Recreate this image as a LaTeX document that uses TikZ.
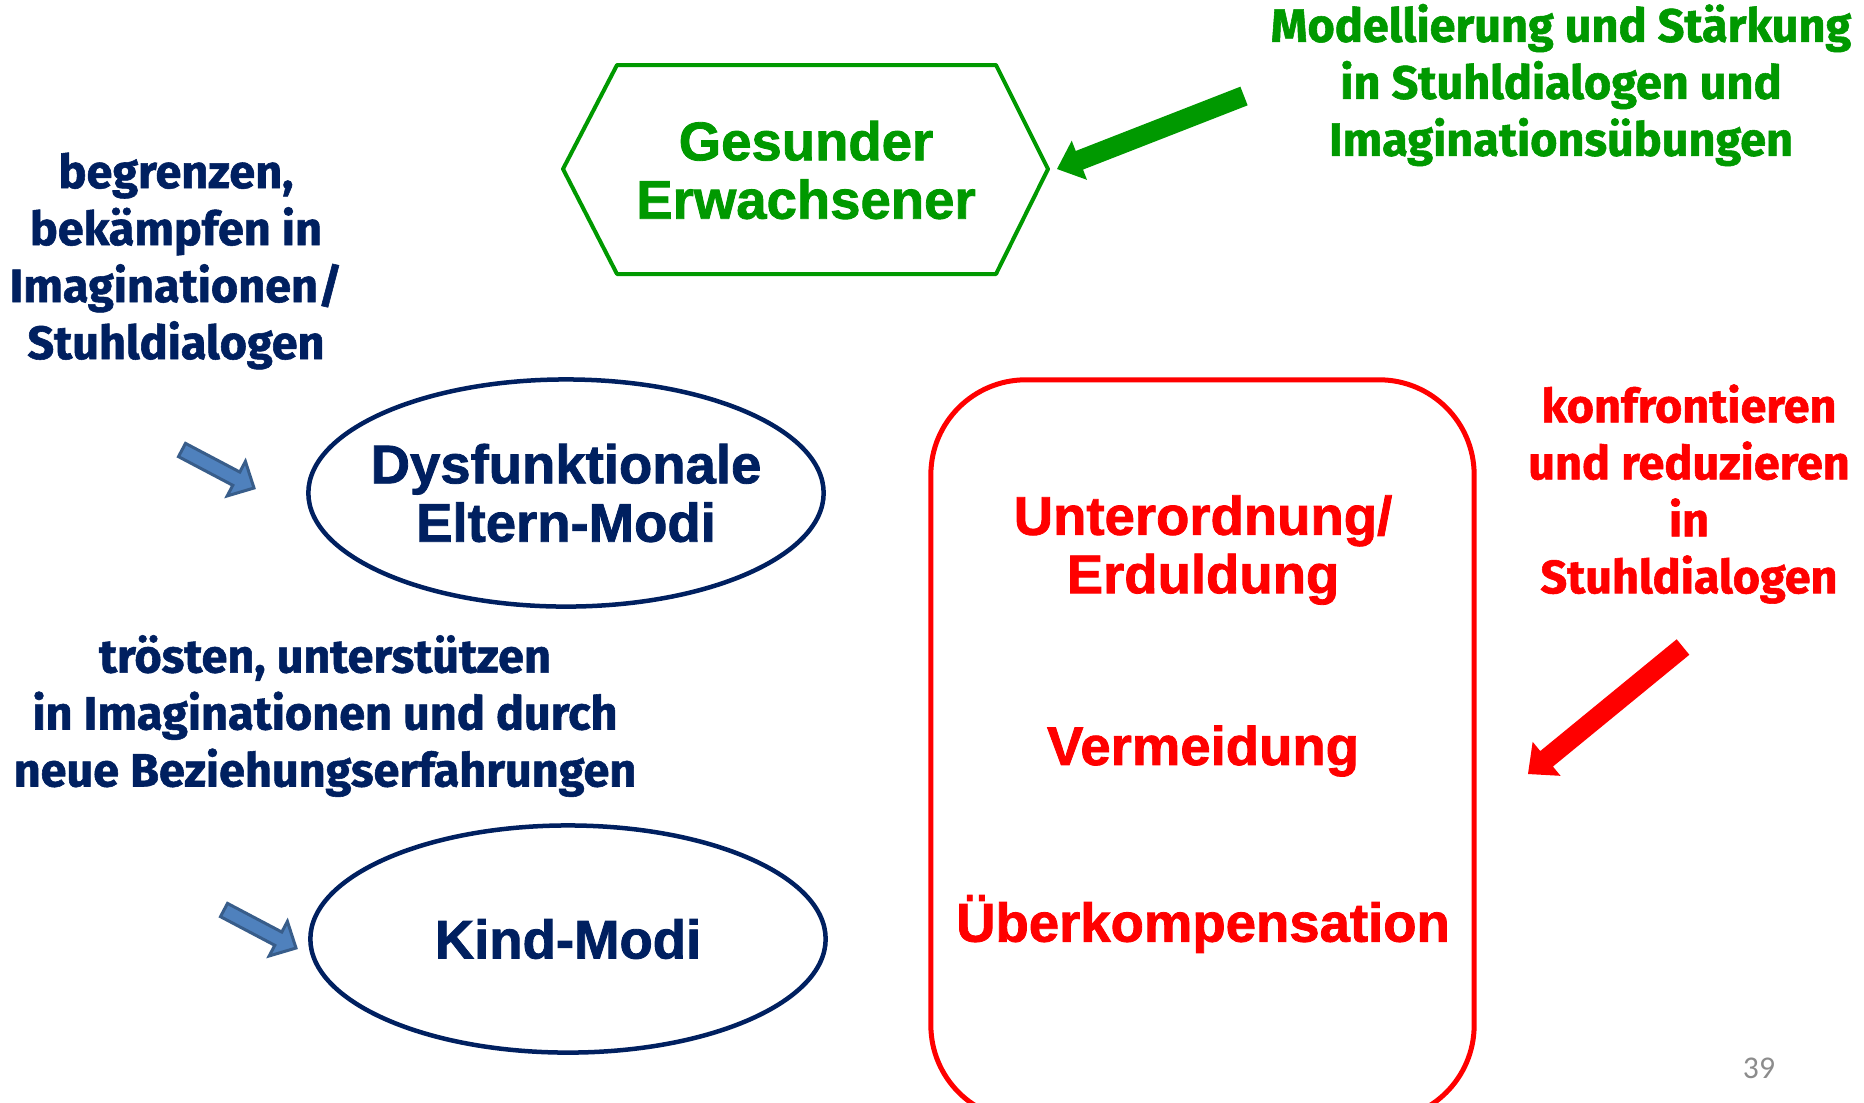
\documentclass[tikz,border=0pt]{standalone}
\usepackage{fontspec}
\usepackage{tikz}
\usetikzlibrary{calc,shapes.geometric,positioning}
\newfontfamily\boxfont{Liberation Sans}[BoldFeatures={FakeBold=1.5}]
\newfontfamily\notefont{Fira Sans}[BoldFeatures={FakeBold=1.2}]
\newfontfamily\pagefont{Carlito}
\definecolor{navy}{HTML}{002060}
\definecolor{grn}{HTML}{009900}
\definecolor{arrowblue}{HTML}{4F81BD}
\definecolor{arrowedge}{HTML}{385D8A}
\definecolor{pagegray}{HTML}{8C8C8C}
\tikzset{
  modetext/.style={font=\boxfont\bfseries\fontsize{15.5}{16.6}\selectfont, align=center, inner sep=0pt},
  notetext/.style={font=\notefont\bfseries\fontsize{13.3}{16.2}\selectfont, align=center, inner sep=0pt},
  modeellipse/.style={ellipse, draw=navy, line width=0.045cm, text=navy,
                      minimum width=5.15cm, minimum height=2.27cm, inner sep=-0.25cm},
  cmbox/.style={draw=red, line width=0.05cm, rounded corners=0.95cm,
                minimum width=5.43cm, minimum height=7.4cm},
  bluearrow/.style={fill=arrowblue, draw=arrowedge, line width=0.03cm},
  greenarrow/.style={fill=grn},
  redarrow/.style={fill=red}
}
\begin{document}
\begin{tikzpicture}[x=0.01cm,y=-0.01cm]
  % block arrow: style, tail, tip, half shaft, half head, head length
  \def\blockarrow#1#2#3#4#5#6{%
    \coordinate (ba) at ($(#3)!#6!(#2)$);
    \path[#1] ($(#2)!#4!90:(#3)$) -- ($(ba)!#4!90:(#3)$) -- ($(ba)!#5!90:(#3)$)
      -- (#3) -- ($(ba)!#5!-90:(#3)$) -- ($(ba)!#4!-90:(#3)$) -- ($(#2)!#4!-90:(#3)$) -- cycle;
  }
  \clip (0,0) rectangle (1864,1102);
  \fill[white] (0,0) rectangle (1864,1102);

  % healthy adult
  \node[modetext, text=grn] (ge) at (806,170) {Gesunder\\Erwachsener};
  \draw[grn, line width=0.04cm, line join=round]
    (563,169) -- (617,65) -- (996,65) -- (1048,169) -- (996,274) -- (617,274) -- cycle;

  % modes
  \node[modetext, modeellipse] (dem) at (566,493) {Dysfunktionale\\Eltern-Modi};
  \node[modetext, modeellipse] (km) at (568,939) {Kind-Modi};

  \node[cmbox] (cm) at (1202.5,750) {};
  \node[modetext, text=red] (ue) at (1203,550) {Unterordnung/\\Erduldung};
  \node[modetext, text=red] (vm) at (1203,751) {Vermeidung};
  \node[modetext, text=red] (uk) at (1203,924) {Überkompensation};

  % notes
  \node[notetext, text=grn] (gnote) at (1561,85)
    {Modellierung und Stärkung\\in Stuhldialogen und\\Imaginationsübungen};
  \node[notetext, text=navy] (pnote) at (176,261)
    {begrenzen,\\bekämpfen in\\Imaginationen/\\Stuhldialogen};
  \node[notetext, text=navy] (knote) at (325,716)
    {trösten, unterstützen\\in Imaginationen und durch\\neue Beziehungserfahrungen};
  \node[notetext, text=red] (rnote) at (1689,494)
    {konfrontieren\\und reduzieren\\in\\Stuhldialogen};

  % arrows
  \coordinate (gtail) at (1244,96);
  \coordinate (gtip) at (1057,169);
  \coordinate (rtail) at (1683,647);
  \coordinate (rtip) at (1528,774);
  \coordinate (ptail) at (182,450);
  \coordinate (ptip) at (254,488);
  \coordinate (ktail) at (224,910);
  \coordinate (ktip) at (296,948);
  \blockarrow{greenarrow}{gtail}{gtip}{0.10cm}{0.21cm}{0.24cm}
  \blockarrow{redarrow}{rtail}{rtip}{0.10cm}{0.22cm}{0.24cm}
  \blockarrow{bluearrow}{ptail}{ptip}{0.075cm}{0.195cm}{0.20cm}
  \blockarrow{bluearrow}{ktail}{ktip}{0.075cm}{0.195cm}{0.20cm}

  \node[font=\pagefont\fontsize{9}{10}\selectfont, text=pagegray] (pg) at (1759,1068) {39};
\end{tikzpicture}
\end{document}
